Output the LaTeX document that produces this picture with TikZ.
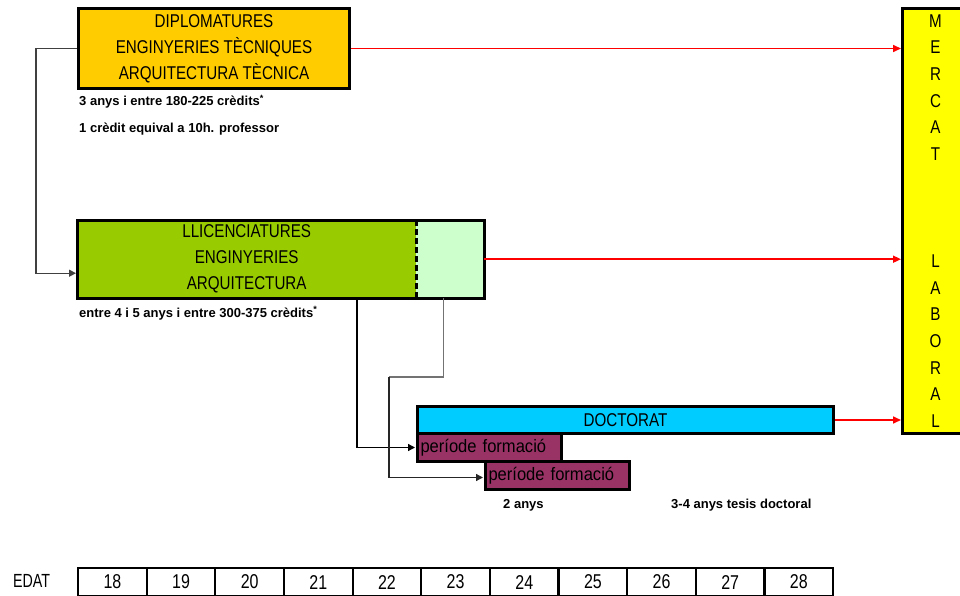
\documentclass[tikz,border=0pt]{standalone}
\usepackage{fontspec}
\setmainfont[FakeStretch=0.82]{Liberation Sans}
\newfontfamily\notefont{Liberation Sans}
\newfontfamily\perfont[FakeStretch=0.92]{Liberation Sans}
\newfontfamily\agefont[FakeStretch=0.8]{Liberation Sans}
\newfontfamily\edatfont[FakeStretch=0.75]{Liberation Sans}
\usetikzlibrary{arrows.meta}

\definecolor{diplcol}{HTML}{FFCC00}
\definecolor{llicol}{HTML}{99CC00}
\definecolor{llixcol}{HTML}{CCFFCC}
\definecolor{doccol}{HTML}{00CCFF}
\definecolor{percol}{HTML}{993366}
\definecolor{merccol}{HTML}{FFFF00}
\definecolor{redline}{HTML}{FF0000}

\begin{document}
\begin{tikzpicture}[x=1pt,y=-1pt,
  box/.style={draw=black, line width=3pt, inner sep=0pt, anchor=north west},
  plain/.style={inner sep=0pt, anchor=north west},
  boxtext/.style={font=\fontsize{18.5}{26}\selectfont, align=center},
  pertext/.style={font=\perfont\fontsize{18}{20}\selectfont, align=left,
    text width=138pt, inner xsep=3pt, inner ysep=0pt, minimum height=28pt},
  note/.style={font=\notefont\bfseries\fontsize{13}{15}\selectfont,
    anchor=base west, inner sep=0pt},
  link/.style={line width=1.3pt, shorten >=1pt,
    -{Triangle[length=7pt,width=7pt]}},
  market/.style={draw=redline, line width=1.6pt,
    -{Triangle[length=8pt,width=7pt]}},
  cell/.style={draw=black, line width=2.2pt, minimum width=68.64pt,
    minimum height=28pt, inner sep=0pt, anchor=north west,
    font=\agefont\fontsize{20}{22}\selectfont}
]
\clip (0,0) rectangle (960,596);

% first-cycle studies
\node[box, fill=diplcol, minimum width=271pt, minimum height=80pt, boxtext]
  (dipl) at (77,7) {DIPLOMATURES\\ENGINYERIES TÈCNIQUES\\ARQUITECTURA TÈCNICA};
\node[note] (n1) at (79,106) {3 anys i entre 180-225 crèdits\textsuperscript{*}};
\node[note] (n2) at (79,133) {1 crèdit equival a 10h. professor};

% long-cycle studies, with the optional extension on the right
\node[plain, fill=llicol, minimum width=339pt, minimum height=78pt, boxtext]
  (llic) at (77,220) {LLICENCIATURES\\ENGINYERIES\\ARQUITECTURA};
\node[plain, fill=llixcol, minimum width=68pt, minimum height=78pt]
  (llicx) at (416,220) {};
\draw[line width=3pt] (llic.north west) rectangle (llicx.south east);
\draw[line width=3pt, dash pattern=on 6pt off 3pt]
  (llic.north east) -- (llic.south east);
\node[note] (n3) at (79,317) {entre 4 i 5 anys i entre 300-375 crèdits\textsuperscript{*}};

% job market
\node[box, fill=merccol, minimum width=66pt, minimum height=425pt,
  font=\fontsize{18.5}{26.7}\selectfont, align=center]
  (merc) at (901,7) {M\\E\\R\\C\\A\\T\\[80.1pt]L\\A\\B\\O\\R\\A\\L};

% doctorate
\node[box, fill=doccol, minimum width=416pt, minimum height=27pt,
  font=\fontsize{18.5}{20}\selectfont] (doct) at (416,405) {DOCTORAT};
\node[box, fill=percol, pertext] (pf1) at (416,432) {període formació};
\node[box, fill=percol, pertext] (pf2) at (484,460) {període formació};
\node[note] (n4) at (503,508) {2 anys};
\node[note] (n5) at (671,508) {3-4 anys tesis doctoral};

% age scale
\node[font=\edatfont\fontsize{19}{21}\selectfont] (edat) at (31.5,581) {EDAT};
\foreach \a [count=\i from 0] in {18,...,28}
  \node[cell] (age\a) at ({77+68.64*\i},567) {\a};

% access paths
\coordinate (bend) at (389,377);
\draw[link, draw=black!75] (dipl.west) -- ++(-41,0) |- ([yshift=-14pt]llic.west);
\draw[link, draw=black] ([xshift=280pt]llic.south west) |- (pf1.west);
\draw[line width=1.3pt, draw=black!55] ([xshift=-7pt]llicx.south) |- (bend);
\draw[link, draw=black!85] (bend) |- ([yshift=-2pt]pf2.west);

% outputs to the job market
\draw[market] (dipl.east) -- (dipl.east -| merc.west);
\draw[market] (llicx.east) -- (llicx.east -| merc.west);
\draw[market] (doct.east) -- (doct.east -| merc.west);
\end{tikzpicture}
\end{document}
